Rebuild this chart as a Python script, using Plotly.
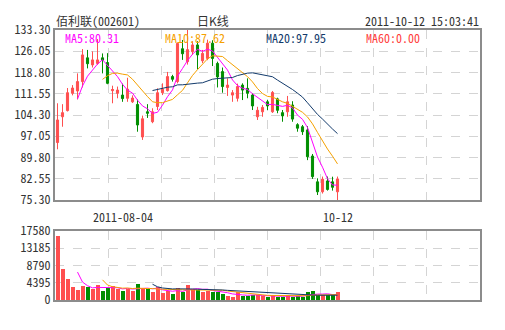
import pandas as pd
import plotly.graph_objects as go

# 佰利联 (002601) daily bars since listing (2011-07-18 .. 2011-10-12)
opens = [94.9, 103.7, 105.8, 111.7, 112.5, 115.7, 123.8, 121.4, 121.9, 123.8,
         122.2, 112.6, 111.7, 111.1, 110.0, 108.8, 107.9, 96.8, 105.4, 102.0,
         107.2, 111.9, 112.6, 117.4, 115.7, 126.9, 122.5, 125.9, 128.2, 122.8,
         123.6, 128.8, 121.9, 119.1, 113.7, 111.1, 110.0, 114.5, 113.4, 111.1,
         103.7, 105.4, 108.8, 105.4, 109.8, 105.1, 105.4, 107.7, 101.0, 100.3,
         99.2, 90.3, 81.5, 78.1, 81.8, 81.5, 78.1]
highs = [108.3, 108.0, 113.5, 114.5, 118.5, 126.8, 126.5, 126.0, 130.2, 125.3,
         125.4, 114.3, 114.0, 115.0, 117.0, 111.0, 109.6, 104.1, 108.0, 106.6,
         113.4, 115.1, 119.0, 118.0, 129.0, 129.9, 133.3, 129.5, 129.5, 126.5,
         130.0, 129.8, 122.5, 120.5, 116.8, 112.8, 115.0, 115.1, 116.8, 111.7,
         107.1, 107.7, 109.5, 112.5, 110.2, 106.0, 110.8, 109.0, 101.5, 100.9,
         100.5, 91.0, 82.7, 83.3, 83.3, 83.25, 83.3]
lows = [92.6, 100.3, 105.5, 111.0, 109.6, 113.7, 120.2, 120.5, 121.4, 118.5,
        114.8, 108.3, 110.0, 108.8, 108.8, 108.4, 98.6, 95.8, 103.3, 101.5,
        106.0, 111.1, 112.3, 115.7, 115.1, 123.1, 121.5, 124.8, 119.9, 122.0,
        123.0, 121.0, 113.7, 111.9, 110.8, 108.8, 108.9, 109.4, 110.0, 106.0,
        102.6, 103.7, 106.0, 105.0, 104.9, 102.0, 103.7, 102.0, 98.6, 97.5,
        88.9, 82.5, 77.0, 77.5, 78.5, 78.5, 75.3]
closes = [102.6, 105.1, 111.9, 113.5, 115.7, 124.8, 121.8, 123.1, 123.1, 123.0,
          115.1, 113.0, 112.8, 109.9, 113.1, 110.1, 100.9, 103.0, 104.9, 105.4,
          111.9, 113.1, 117.4, 116.5, 128.7, 125.2, 126.6, 128.2, 124.8, 125.3,
          128.8, 123.6, 117.3, 114.0, 114.5, 111.9, 114.0, 112.8, 111.7, 107.4,
          105.9, 106.9, 107.4, 112.0, 105.9, 104.0, 108.8, 102.9, 99.8, 98.6,
          90.07, 83.28, 78.1, 82.4, 78.9, 79.65, 82.5]
volumes = [16350, 7940, 5390, 3310, 2590, 3610, 3310, 2680, 3860, 2330,
           3150, 3610, 2680, 2380, 2930, 2380, 4080, 3010, 2680, 2160,
           3230, 1910, 2330, 1520, 3010, 2160, 3820, 2850, 2630, 2120,
           2380, 2160, 2160, 1570, 1020, 800, 1990, 1100, 1100, 1190,
           1190, 1100, 760, 1360, 760, 760, 1360, 760, 1100, 850,
           2080, 2340, 1150, 1150, 1150, 1150, 2040]

price_ticks = [75.30, 82.55, 89.80, 97.05, 104.30, 111.55, 118.80, 126.05, 133.30]
volume_ticks = [0, 4395, 8790, 13185, 17580]
date_tick_idx = [13, 56]
date_tick_text = ["2011-08-04", "10-12"]
ma_periods = [5, 10, 20, 60]

stock_name = "佰利联"
stock_code = "002601"
chart_kind = "日K线"
timestamp = "2011-10-12 15:03:41"

RED = "#ff4f4f"
GREEN = "#008e00"
MA_COLORS = {5: "#ff00ff", 10: "#f5a100", 20: "#123a6b", 60: "#ff3b3b"}
FRAME = "#8c8c8c"
GRID = "#d4d4d4"
TEXT = "#333333"
MONO = "Noto Sans Mono CJK SC, Liberation Mono, monospace"
CJK = "Noto Sans CJK SC, sans-serif"

# Plot frame in pixels (figure is 505 x 330)
W, H = 505, 330
L, R, T, B = 55, 25, 30, 30
PW, PH = W - L - R, H - T - B
N_SLOTS = 85


def px_x(px):
    return (px - L) / PW


def px_y(py):
    return 1 - (py - T) / PH


idx = list(range(len(closes)))
close_s = pd.Series(closes)
vol_s = pd.Series(volumes)
up = [c >= o for o, c in zip(opens, closes)]
bar_colors = [RED if u else GREEN for u in up]

fig = go.Figure()

fig.add_trace(go.Candlestick(
    x=idx, open=opens, high=highs, low=lows, close=closes,
    increasing=dict(line=dict(color=RED, width=1), fillcolor=RED),
    decreasing=dict(line=dict(color=GREEN, width=1), fillcolor=GREEN),
    whiskerwidth=0, hoverinfo="skip", showlegend=False,
    xaxis="x", yaxis="y",
))

ma_last = {}
for p in ma_periods:
    ma = close_s.rolling(p).mean()
    ma_last[p] = 0.0 if ma.isna().all() else float(ma.iloc[-1])
    if p == 60:
        continue
    fig.add_trace(go.Scatter(
        x=idx, y=ma, mode="lines", line=dict(color=MA_COLORS[p], width=1),
        hoverinfo="skip", showlegend=False, xaxis="x", yaxis="y",
    ))

fig.add_trace(go.Bar(
    x=idx, y=volumes, width=0.8, marker=dict(color=bar_colors, line=dict(width=0)),
    hoverinfo="skip", showlegend=False, xaxis="x2", yaxis="y2",
))
for p in (5, 10, 20):
    vma = vol_s.rolling(p).mean()
    fig.add_trace(go.Scatter(
        x=idx, y=vma, mode="lines", line=dict(color=MA_COLORS[p], width=1),
        hoverinfo="skip", showlegend=False, xaxis="x2", yaxis="y2",
    ))

x_range = [-0.5, N_SLOTS - 0.5]
x_grid = [x_range[0] + N_SLOTS * k / 8 for k in range(1, 8)]

xcommon = dict(
    range=x_range, tickmode="array", tickvals=x_grid, showticklabels=False,
    ticks="", showgrid=True, gridcolor=GRID, griddash="dash", gridwidth=1,
    showline=True, mirror=True, linecolor=FRAME, linewidth=2, zeroline=False,
    fixedrange=True, rangeslider=dict(visible=False),
)
ycommon = dict(
    tickmode="array", showgrid=True, gridcolor=GRID, griddash="dash", gridwidth=1,
    showline=True, mirror=True, linecolor=FRAME, linewidth=2, zeroline=False,
    ticks="", tickfont=dict(family=MONO, size=12, color=TEXT), fixedrange=True,
)

main_bottom = px_y(200)
vol_top = px_y(231)

fig.update_layout(
    width=W, height=H, autosize=False,
    margin=dict(l=L, r=R, t=T, b=B, pad=0),
    paper_bgcolor="white", plot_bgcolor="white",
    boxgap=0.4, bargap=0,
    xaxis=dict(anchor="y", **xcommon),
    xaxis2=dict(anchor="y2", **xcommon),
    yaxis=dict(domain=[main_bottom, 1], range=[price_ticks[0], price_ticks[-1]],
               tickvals=price_ticks, ticktext=[f"{v:.2f}" for v in price_ticks],
               anchor="x", **ycommon),
    yaxis2=dict(domain=[0, vol_top], range=[volume_ticks[0], volume_ticks[-1]],
                tickvals=volume_ticks, ticktext=[str(v) for v in volume_ticks],
                anchor="x2", **ycommon),
)

HEADER_Y = 20.5
MA_Y = 37.5

ann = []
ann.append(dict(
    x=px_x(55), y=px_y(HEADER_Y), xref="paper", yref="paper", xanchor="left", yanchor="middle",
    text=f"{stock_name}<span style=\"font-family:{MONO.split(',')[0]}\">({stock_code})</span>",
    showarrow=False, font=dict(family=CJK, size=12, color=TEXT), borderpad=0,
))
ann.append(dict(
    x=px_x(213), y=px_y(HEADER_Y), xref="paper", yref="paper", xanchor="center", yanchor="middle",
    text=chart_kind, showarrow=False, font=dict(family=CJK, size=12, color=TEXT), borderpad=0,
))
ann.append(dict(
    x=px_x(480), y=px_y(HEADER_Y), xref="paper", yref="paper", xanchor="right", yanchor="middle",
    text=timestamp, showarrow=False, font=dict(family=MONO, size=12, color=TEXT), borderpad=0,
))
for p, left in zip(ma_periods, (64, 164, 265, 365)):
    ann.append(dict(
        x=px_x(left), y=px_y(MA_Y), xref="paper", yref="paper", xanchor="left", yanchor="middle",
        text=f"MA{p}:{ma_last[p]:.2f}", showarrow=False, borderpad=0,
        font=dict(family=MONO, size=12, color=MA_COLORS[p]),
    ))
for i, label in zip(date_tick_idx, date_tick_text):
    ann.append(dict(
        x=i, y=px_y(216.5), xref="x", yref="paper", xanchor="center", yanchor="middle",
        text=label, showarrow=False, borderpad=0,
        font=dict(family=MONO, size=12, color=TEXT),
    ))
fig.update_layout(annotations=ann)

fig.write_html("out.html")
